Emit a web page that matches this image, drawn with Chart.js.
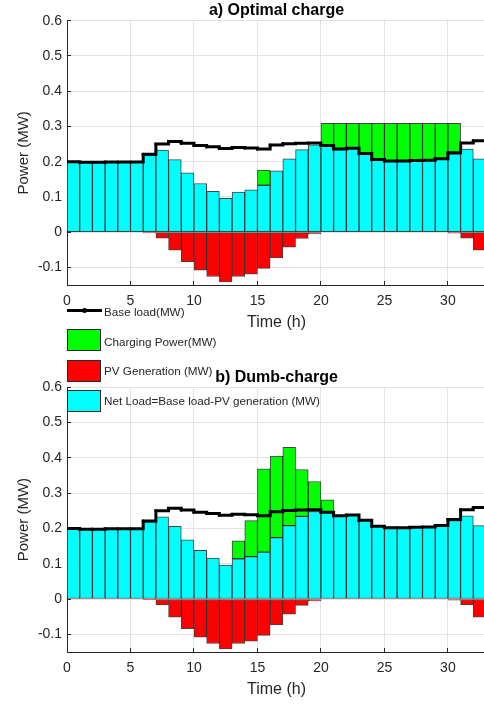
<!DOCTYPE html>
<html>
<head>
<meta charset="utf-8">
<script src="https://cdn.jsdelivr.net/npm/chart.js@4/dist/chart.umd.min.js"></script>
<style>
  html, body { margin: 0; padding: 0; background: #fff; overflow: hidden; width: 484px; height: 704px; }
  #wrap { position: relative; width: 484px; height: 704px; overflow: hidden;
          font-family: "Liberation Sans", Arial, sans-serif; }
  canvas { position: absolute; left: 0; }
  #cTop { top: 0; }
  #cBot { top: 366px; }
  .lgText { position: absolute; left: 104px; color: #262626; font-size: 11.7px; line-height: 14px;
            white-space: nowrap; transform: translateY(-50%); z-index: 5; }
  .lgBox { position: absolute; left: 67px; width: 34px; height: 22px; box-sizing: border-box;
           border: 1px solid #2a2a2a; z-index: 5; }
  .lgLine { position: absolute; left: 67px; top: 308.5px; width: 35px; height: 3px; background: #000; z-index: 5; }
  .lgDot { position: absolute; left: 82px; top: 307.5px; width: 5px; height: 5px; border-radius: 50%;
           background: #000; z-index: 5; }
</style>
</head>
<body>
<div id="wrap">
  <canvas id="cTop" width="490" height="333"></canvas>
  <canvas id="cBot" width="490" height="334"></canvas>

  <div class="lgLine"></div><div class="lgDot"></div>
  <div class="lgText" style="top:311.5px">Base load(MW)</div>
  <div class="lgBox" style="top:329px;background:#00ff00"></div>
  <div class="lgText" style="top:341.5px">Charging Power(MW)</div>
  <div class="lgBox" style="top:359.5px;background:#ff0000"></div>
  <div class="lgText" style="top:371px">PV Generation (MW)</div>
  <div class="lgBox" style="top:389.5px;background:#00ffff"></div>
  <div class="lgText" style="top:401px">Net Load=Base load-PV generation (MW)</div>
</div>

<script>
// Hour index of each bar (bar i covers hour i .. i+1)
const HOURS = [0, 1, 2, 3, 4, 5, 6, 7, 8, 9, 10, 11, 12, 13, 14, 15, 16,
               17, 18, 19, 20, 21, 22, 23, 24, 25, 26, 27, 28, 29, 30, 31, 32];

// Base load (MW)
const BASE_LOAD = [0.200, 0.198, 0.198, 0.199, 0.199, 0.199, 0.221, 0.250, 0.257, 0.252, 0.246,
                   0.242, 0.237, 0.240, 0.239, 0.236, 0.247, 0.251, 0.252, 0.253, 0.246, 0.236,
                   0.238, 0.223, 0.206, 0.202, 0.202, 0.203, 0.204, 0.208, 0.225, 0.253, 0.259];

// PV generation (MW, drawn below zero)
const PV_GEN = [null, null, null, null, null, null, -0.002, -0.017, -0.051, -0.084, -0.108,
                -0.126, -0.141, -0.126, -0.119, -0.103, -0.073, -0.043, -0.018, -0.005, null, null,
                null, null, null, null, null, null, null, null, -0.003, -0.017, -0.051];

// Net load = base load - PV generation (MW)
const NET_LOAD = [0.200, 0.198, 0.198, 0.199, 0.199, 0.199, 0.219, 0.233, 0.206, 0.168, 0.138,
                  0.116, 0.096, 0.114, 0.120, 0.133, 0.174, 0.208, 0.234, 0.248, 0.246, 0.236,
                  0.238, 0.223, 0.206, 0.202, 0.202, 0.203, 0.204, 0.208, 0.222, 0.236, 0.208];

// EV charging power, optimal schedule (MW)
const CHARGE_OPTIMAL = [null, null, null, null, null, null, null, null, null, null, null,
                        null, null, null, null, 0.043, null, null, null, null, 0.063, 0.073,
                        0.071, 0.086, 0.103, 0.107, 0.107, 0.106, 0.105, 0.101, 0.087, null, null];

// EV charging power, uncontrolled (dumb) charging (MW)
const CHARGE_DUMB = [null, null, null, null, null, null, null, null, null, null, null,
                     null, null, 0.051, 0.102, 0.236, 0.231, 0.222, 0.133, 0.085, 0.035, null,
                     null, null, null, null, null, null, null, null, null, null, null];

// Axis ticks
const X_TICKS = [0, 5, 10, 15, 20, 25, 30];
const X_TICK_LABELS = ['0', '5', '10', '15', '20', '25', '30'];
const Y_TICKS = [-0.1, 0, 0.1, 0.2, 0.3, 0.4, 0.5, 0.6];
const Y_TICK_LABELS = ['-0.1', '0', '0.1', '0.2', '0.3', '0.4', '0.5', '0.6'];

const FONT = '"Liberation Sans", Arial, sans-serif';
const AXIS_COLOR = '#262626';
const GRID_COLOR = '#e2e2e2';
const EDGE = 'rgba(20,20,20,0.8)';

Chart.defaults.font.family = FONT;
Chart.defaults.color = AXIS_COLOR;

// bar i is centred in its hour slot
function barPoints(values) {
  return values.map((v, i) => ({ x: HOURS[i] + 0.5, y: v }));
}
// stairs line: each value holds for its hour, last value extended to the end of its hour
function stairPoints(values) {
  const pts = values.map((v, i) => ({ x: HOURS[i], y: v }));
  const last = values.length - 1;
  pts.push({ x: HOURS[last] + 1, y: values[last] });
  return pts;
}

function makeChart(canvasId, titleText, chargeValues, titlePad) {
  const barStyle = {
    type: 'bar', stack: 'load', order: 1,
    borderColor: EDGE, borderWidth: 1, borderSkipped: false,
    barPercentage: 1, categoryPercentage: 1
  };
  return new Chart(document.getElementById(canvasId), {
    type: 'bar',
    data: {
      datasets: [
        { type: 'line', label: 'Base load(MW)', data: stairPoints(BASE_LOAD), stack: 'base', order: 0,
          stepped: 'before', borderColor: '#000', borderWidth: 3, backgroundColor: '#000',
          pointRadius: 1.6, pointBackgroundColor: '#000', pointBorderWidth: 0, fill: false },
        Object.assign({ label: 'Net Load=Base load-PV generation (MW)', data: barPoints(NET_LOAD),
                        backgroundColor: '#00ffff' }, barStyle),
        Object.assign({ label: 'Charging Power(MW)', data: barPoints(chargeValues),
                        backgroundColor: '#00ff00' }, barStyle),
        Object.assign({ label: 'PV Generation (MW)', data: barPoints(PV_GEN),
                        backgroundColor: '#ff0000' }, barStyle)
      ]
    },
    options: {
      responsive: false,
      animation: false,
      devicePixelRatio: 1,
      layout: { padding: { left: 0, right: 3, top: 0, bottom: 0 } },
      plugins: {
        legend: { display: false },
        tooltip: { enabled: false },
        title: {
          display: true, text: titleText, color: '#000', fullSize: false,
          font: { family: FONT, size: 16, weight: 'bold', lineHeight: 1.2 },
          padding: titlePad
        }
      },
      scales: {
        x: {
          type: 'linear', min: 0, max: 33, offset: false,
          afterBuildTicks: (s) => { s.ticks = X_TICKS.map((v) => ({ value: v })); },
          afterFit: (s) => { s.height = 48; },
          ticks: { font: { size: 14 }, color: AXIS_COLOR, padding: 12, maxRotation: 0,
                   callback: (v, i) => X_TICK_LABELS[i] },
          grid: { offset: false, color: GRID_COLOR, lineWidth: 1, drawTicks: true, tickLength: -4,
                  tickColor: AXIS_COLOR, tickWidth: 1 },
          border: { display: true, color: AXIS_COLOR, width: 1 },
          title: { display: true, text: 'Time (h)', color: AXIS_COLOR,
                   font: { size: 16, lineHeight: 1.2 }, padding: { top: 0, bottom: 1 } }
        },
        y: {
          type: 'linear', min: -0.15, max: 0.6, stacked: true,
          afterBuildTicks: (s) => { s.ticks = Y_TICKS.map((v) => ({ value: v })); },
          afterFit: (s) => { s.width = 67; },
          ticks: { font: { size: 14 }, color: AXIS_COLOR, padding: 9,
                   callback: (v, i) => Y_TICK_LABELS[i] },
          grid: { color: GRID_COLOR, lineWidth: 1, drawTicks: true, tickLength: -4,
                  tickColor: AXIS_COLOR, tickWidth: 1 },
          border: { display: true, color: AXIS_COLOR, width: 1 },
          title: { display: true, text: 'Power (MW)', color: AXIS_COLOR,
                   font: { size: 15, lineHeight: 1.2 }, padding: { top: 15, bottom: 0 } }
        }
      }
    }
  });
}

makeChart('cTop', 'a) Optimal charge', CHARGE_OPTIMAL, { top: 1, bottom: 0.5 });
makeChart('cBot', 'b) Dumb-charge', CHARGE_DUMB, { top: 1.5, bottom: 0.5 });
</script>
</body>
</html>
